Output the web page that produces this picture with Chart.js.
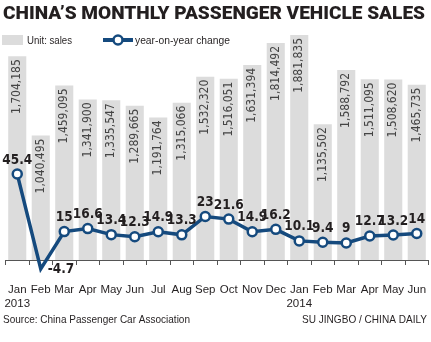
<!DOCTYPE html>
<html lang="en">
<head>
    <meta charset="UTF-8">
    <title>China's Monthly Passenger Vehicle Sales</title>
    <script src="https://cdn.jsdelivr.net/npm/chart.js"></script>
    <style>
        body { margin: 0; background: #fff; }
        #wrap { width: 431px; height: 342px; }
    </style>
</head>
<body>
    <div id="wrap"><canvas id="salesChart" width="431" height="342"></canvas></div>
    <script>
        const months = ['Jan', 'Feb', 'Mar', 'Apr', 'May', 'Jun', 'Jul', 'Aug', 'Sep', 'Oct', 'Nov', 'Dec',
                        'Jan', 'Feb', 'Mar', 'Apr', 'May', 'Jun'];
        const years = { 0: '2013', 12: '2014' };
        const sales = [1704185, 1040495, 1459095, 1341900, 1335547, 1289665, 1191764, 1315066, 1532320,
                       1516051, 1631394, 1814492, 1881835, 1135502, 1588792, 1511095, 1508620, 1465735];
        const yoy = [45.4, -4.7, 15, 16.6, 13.4, 12.3, 14.9, 13.3, 23, 21.6, 14.9, 16.2, 10.1, 9.4, 9, 12.7, 13.2, 14];

        const navy = '#154a7e';
        const barGray = '#dcdcdc';
        const ink = '#231f20';
        const narrow = '"Liberation Sans Narrow", "DejaVu Sans Condensed", "Liberation Sans", sans-serif';

        const labels = months.map((m, i) => years[i] ? [m, years[i]] : m);

        // squeeze text horizontally so it fills the given width
        function fitText(ctx, text, x, y, width, align) {
            const w = ctx.measureText(text).width;
            ctx.save();
            ctx.translate(x, y);
            ctx.scale(width / w, 1);
            ctx.textAlign = align || 'left';
            ctx.fillText(text, 0, 0);
            ctx.restore();
        }

        const decorations = {
            id: 'decorations',
            afterDatasetDraw(chart, args) {
                const ctx = chart.ctx;
                if (args.meta.type === 'bar') {
                    // vertical value labels inside the top of each bar
                    ctx.save();
                    ctx.fillStyle = '#444';
                    ctx.font = '12px ' + narrow;
                    ctx.textAlign = 'right';
                    ctx.textBaseline = 'middle';
                    args.meta.data.forEach((bar, i) => {
                        ctx.save();
                        ctx.translate(bar.x, bar.y + 3);
                        ctx.rotate(-Math.PI / 2);
                        ctx.fillText(sales[i].toLocaleString('en-US'), 0, 0);
                        ctx.restore();
                    });
                    ctx.restore();
                }
                if (args.meta.type === 'line') {
                    ctx.save();
                    ctx.fillStyle = ink;
                    ctx.font = 'bold 13.5px ' + narrow;
                    ctx.textBaseline = 'middle';
                    args.meta.data.forEach((pt, i) => {
                        if (yoy[i] < 0) {
                            ctx.textAlign = 'left';
                            ctx.fillText(String(yoy[i]), pt.x + 7, pt.y + 1);
                        } else {
                            ctx.textAlign = 'center';
                            ctx.fillText(String(yoy[i]), pt.x, pt.y - 14);
                        }
                    });
                    ctx.restore();
                }
            },
            afterDraw(chart) {
                const ctx = chart.ctx;
                ctx.save();
                ctx.fillStyle = ink;

                // title
                ctx.font = '900 19px Roboto, "Liberation Sans", sans-serif';
                ctx.textBaseline = 'alphabetic';
                fitText(ctx, 'CHINA\u2019S MONTHLY PASSENGER VEHICLE SALES', 3, 18.5, 422);

                // legend
                ctx.fillStyle = barGray;
                ctx.fillRect(2, 35, 21, 10);
                ctx.fillStyle = ink;
                ctx.font = '11.5px "Liberation Sans", sans-serif';
                ctx.textBaseline = 'middle';
                fitText(ctx, 'Unit: sales', 27, 40.5, 45);

                ctx.strokeStyle = navy;
                ctx.lineWidth = 4;
                ctx.beginPath();
                ctx.moveTo(103, 40);
                ctx.lineTo(133, 40);
                ctx.stroke();
                ctx.beginPath();
                ctx.arc(118, 40, 4.5, 0, Math.PI * 2);
                ctx.fillStyle = '#fff';
                ctx.fill();
                ctx.lineWidth = 2.5;
                ctx.stroke();
                ctx.fillStyle = ink;
                fitText(ctx, 'year-on-year change', 135, 40.5, 95);

                // footer
                ctx.font = '11px "Liberation Sans", sans-serif';
                fitText(ctx, 'Source: China Passenger Car Association', 3, 319.5, 187);
                fitText(ctx, 'SU JINGBO / CHINA DAILY', 427, 319.5, 125, 'right');
                ctx.restore();
            }
        };

        new Chart(document.getElementById('salesChart'), {
            data: {
                labels: labels,
                datasets: [{
                    type: 'line',
                    label: 'year-on-year change',
                    data: yoy,
                    yAxisID: 'y1',
                    order: 0,
                    borderColor: navy,
                    borderWidth: 3.5,
                    pointRadius: 4.5,
                    pointBorderWidth: 2.5,
                    pointBackgroundColor: '#fff',
                    pointBorderColor: navy,
                    tension: 0,
                    clip: false
                }, {
                    type: 'bar',
                    label: 'Unit: sales',
                    data: sales,
                    yAxisID: 'y',
                    order: 1,
                    backgroundColor: barGray,
                    barPercentage: 0.77,
                    categoryPercentage: 1
                }]
            },
            options: {
                responsive: false,
                animation: false,
                events: [],
                layout: { autoPadding: false, padding: { top: 30, left: 5.5, right: 2.5, bottom: 0 } },
                plugins: {
                    legend: { display: false },
                    tooltip: { enabled: false }
                },
                scales: {
                    x: {
                        offset: true,
                        grid: {
                            offset: true,
                            drawOnChartArea: false,
                            drawTicks: true,
                            tickLength: 5,
                            color: '#555'
                        },
                        border: { display: true, color: '#555', width: 1 },
                        ticks: {
                            color: ink,
                            padding: 18,
                            maxRotation: 0,
                            autoSkip: false,
                            font: { family: '"Liberation Sans", sans-serif', size: 11.5, lineHeight: 1.2 }
                        },
                        afterFit(scale) {
                            scale.height = 82;
                            scale.paddingLeft = 0;
                            scale.paddingRight = 0;
                        }
                    },
                    y: { display: false, min: 0, max: 1923000 },
                    y1: { display: false, min: 0, max: 121.5 }
                }
            },
            plugins: [decorations]
        });
    </script>
</body>
</html>
